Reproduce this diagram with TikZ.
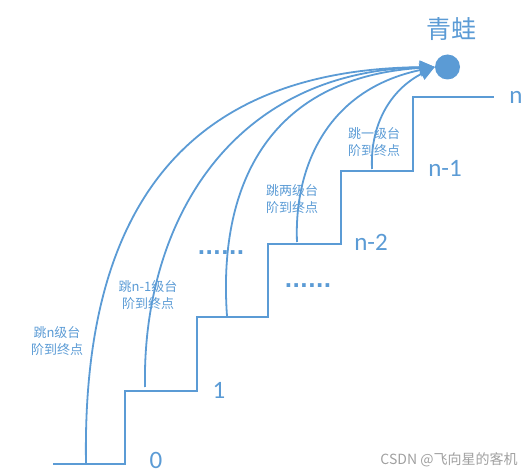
\documentclass[tikz,border=0pt]{standalone}
\usepackage{fontspec}
\setmainfont{Carlito}
\newfontfamily\cjk{Noto Sans CJK SC}
\newfontfamily\dejavu{DejaVu Sans}
\usetikzlibrary{arrows.meta}
\definecolor{blau}{RGB}{91,155,213}
\definecolor{grau}{RGB}{160,160,160}
\tikzset{
    treppe/.style={draw=blau, line width=2pt},
    sprung/.style={draw=blau, line width=1.8pt, -{Triangle[length=15pt,width=13pt]}},
    stufe/.style={text=blau, inner sep=0pt, font=\fontsize{25}{28}\selectfont},
    hinweis/.style={text=blau, inner sep=0pt, align=center, font=\cjk\fontsize{13}{17}\selectfont},
    punkte/.style={text=blau, anchor=base, inner sep=0pt, font=\dejavu\bfseries\fontsize{20.5}{24}\selectfont},
}
\begin{document}
\begin{tikzpicture}[x=1pt,y=-1pt]
    \useasboundingbox (0,0) rectangle (531,473);

    % zeichne Treppe
    \draw[treppe] (53,464) -- (125,464) -- (125,391) -- (197,391) -- (197,317)
        -- (268,317) -- (268,244) -- (341,244) -- (341,171) -- (413,171)
        -- (413,97) -- (494,97);

    % zeichne Labels
    \node[stufe] (s0) at (156,460) {0};
    \node[stufe] (s1) at (219,390) {1};
    \node[stufe] (sn2) at (371,242) {n-2};
    \node[stufe] (sn1) at (445,168) {n-1};
    \node[stufe] (sn) at (516,97) {n};
    \node[punkte] (p1) at (221,255) {......};
    \node[punkte] (p2) at (308,288) {......};

    % zeichne Frosch
    \node[circle, fill=blau, minimum size=25pt, inner sep=0pt] (frosch) at (447.5,67) {};
    \node[text=blau, inner sep=0pt, font=\cjk\fontsize{25}{28}\selectfont] (name) at (451,29) {青蛙};

    % Startpunkte der Spruenge
    \coordinate (a0) at (86,464);
    \coordinate (a1) at (145,387);
    \coordinate (a2) at (227,316);
    \coordinate (a3) at (297,242);
    \coordinate (a4) at (372,169);

    % zeichne Spruenge
    \draw[sprung] (a0) .. controls (82,225) and (172,70) .. (frosch.west);
    \draw[sprung] (a1) .. controls (142,230) and (225,72) .. (frosch.west);
    \draw[sprung] (a2) .. controls (218,190) and (265,78) .. (frosch.west);
    \draw[sprung] (a3) .. controls (294,170) and (325,90) .. (frosch.west);
    \draw[sprung] (a4) .. controls (370,125) and (390,90) .. (frosch.west);

    % Beschriftung der Spruenge
    \node[hinweis] (h0) at (57,341) {跳n级台\\阶到终点};
    \node[hinweis] (h1) at (148,295) {跳n-1级台\\阶到终点};
    \node[hinweis] (h2) at (292,199) {跳两级台\\阶到终点};
    \node[hinweis] (h3) at (374,142) {跳一级台\\阶到终点};

    % Wasserzeichen
    \node[text=grau, inner sep=0pt, font=\cjk\fontsize{14}{16}\selectfont] (wz) at (449,460) {CSDN @飞向星的客机};
\end{tikzpicture}
\end{document}
